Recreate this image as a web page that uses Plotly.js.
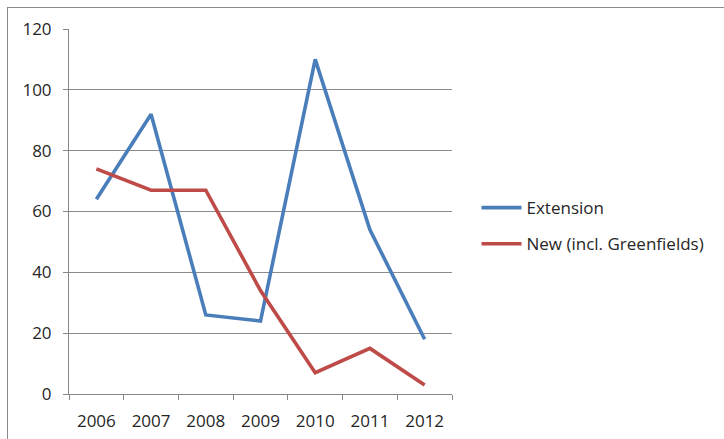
<!DOCTYPE html>
<html>
<head>
<meta charset="utf-8">
<script src="https://cdn.plot.ly/plotly-3.0.1.min.js"></script>
<style>
html,body{margin:0;padding:0;background:#fff;}
#frame{position:absolute;left:7px;top:7px;width:800px;height:600px;border-left:1px solid #8a8a8a;border-top:1px solid #8a8a8a;}
#chart{position:absolute;left:0;top:0;width:724px;height:439px;}
</style>
</head>
<body>
<div id="frame"></div>
<div id="chart"></div>
<script>
const years = ["2006","2007","2008","2009","2010","2011","2012"];
const extension = [64, 92, 26, 24, 110, 54, 18];
const newIncl = [74, 67, 67, 34, 7, 15, 3];
const yTicks = [0, 20, 40, 60, 80, 100, 120];

const font = {family: "Open Sans, Noto Sans, sans-serif", size: 17, color: "#262626"};

const traces = [
  {x: years, y: extension, name: "Extension", type: "scatter", mode: "lines",
   line: {color: "#4a7ebb", width: 3.6}, legendgroup: "a"},
  {x: years, y: newIncl, name: "New (incl. Greenfields)", type: "scatter", mode: "lines",
   line: {color: "#be4b48", width: 3.6}, legendgroup: "b"}
];

const layout = {
  width: 724, height: 439,
  margin: {l: 69, r: 272, t: 29, b: 45},
  paper_bgcolor: "rgba(0,0,0,0)",
  plot_bgcolor: "rgba(0,0,0,0)",
  font: font,
  showlegend: true,
  legend: {x: 1.064, y: 0.46, xanchor: "left", yanchor: "middle",
           traceorder: "grouped", tracegroupgap: 11, font: font, itemwidth: 40,
           bgcolor: "rgba(0,0,0,0)"},
  xaxis: {type: "category", range: [-0.5, 6.5], showgrid: false,
          showline: true, linecolor: "#868686", linewidth: 1,
          ticks: "outside", ticklen: 5, tickcolor: "#868686", tickson: "boundaries",
          ticklabelstandoff: 12, tickfont: font, fixedrange: true},
  yaxis: {range: [0, 120], tickvals: yTicks, ticktext: yTicks.map(String),
          showgrid: true, gridcolor: "#8c8c8c", gridwidth: 1,
          showline: true, linecolor: "#868686", linewidth: 1,
          ticks: "outside", ticklen: 5, tickcolor: "#868686",
          ticklabelstandoff: 8, tickfont: font, zeroline: false, fixedrange: true}
};

Plotly.newPlot("chart", traces, layout, {displayModeBar: false, staticPlot: true});
</script>
</body>
</html>
